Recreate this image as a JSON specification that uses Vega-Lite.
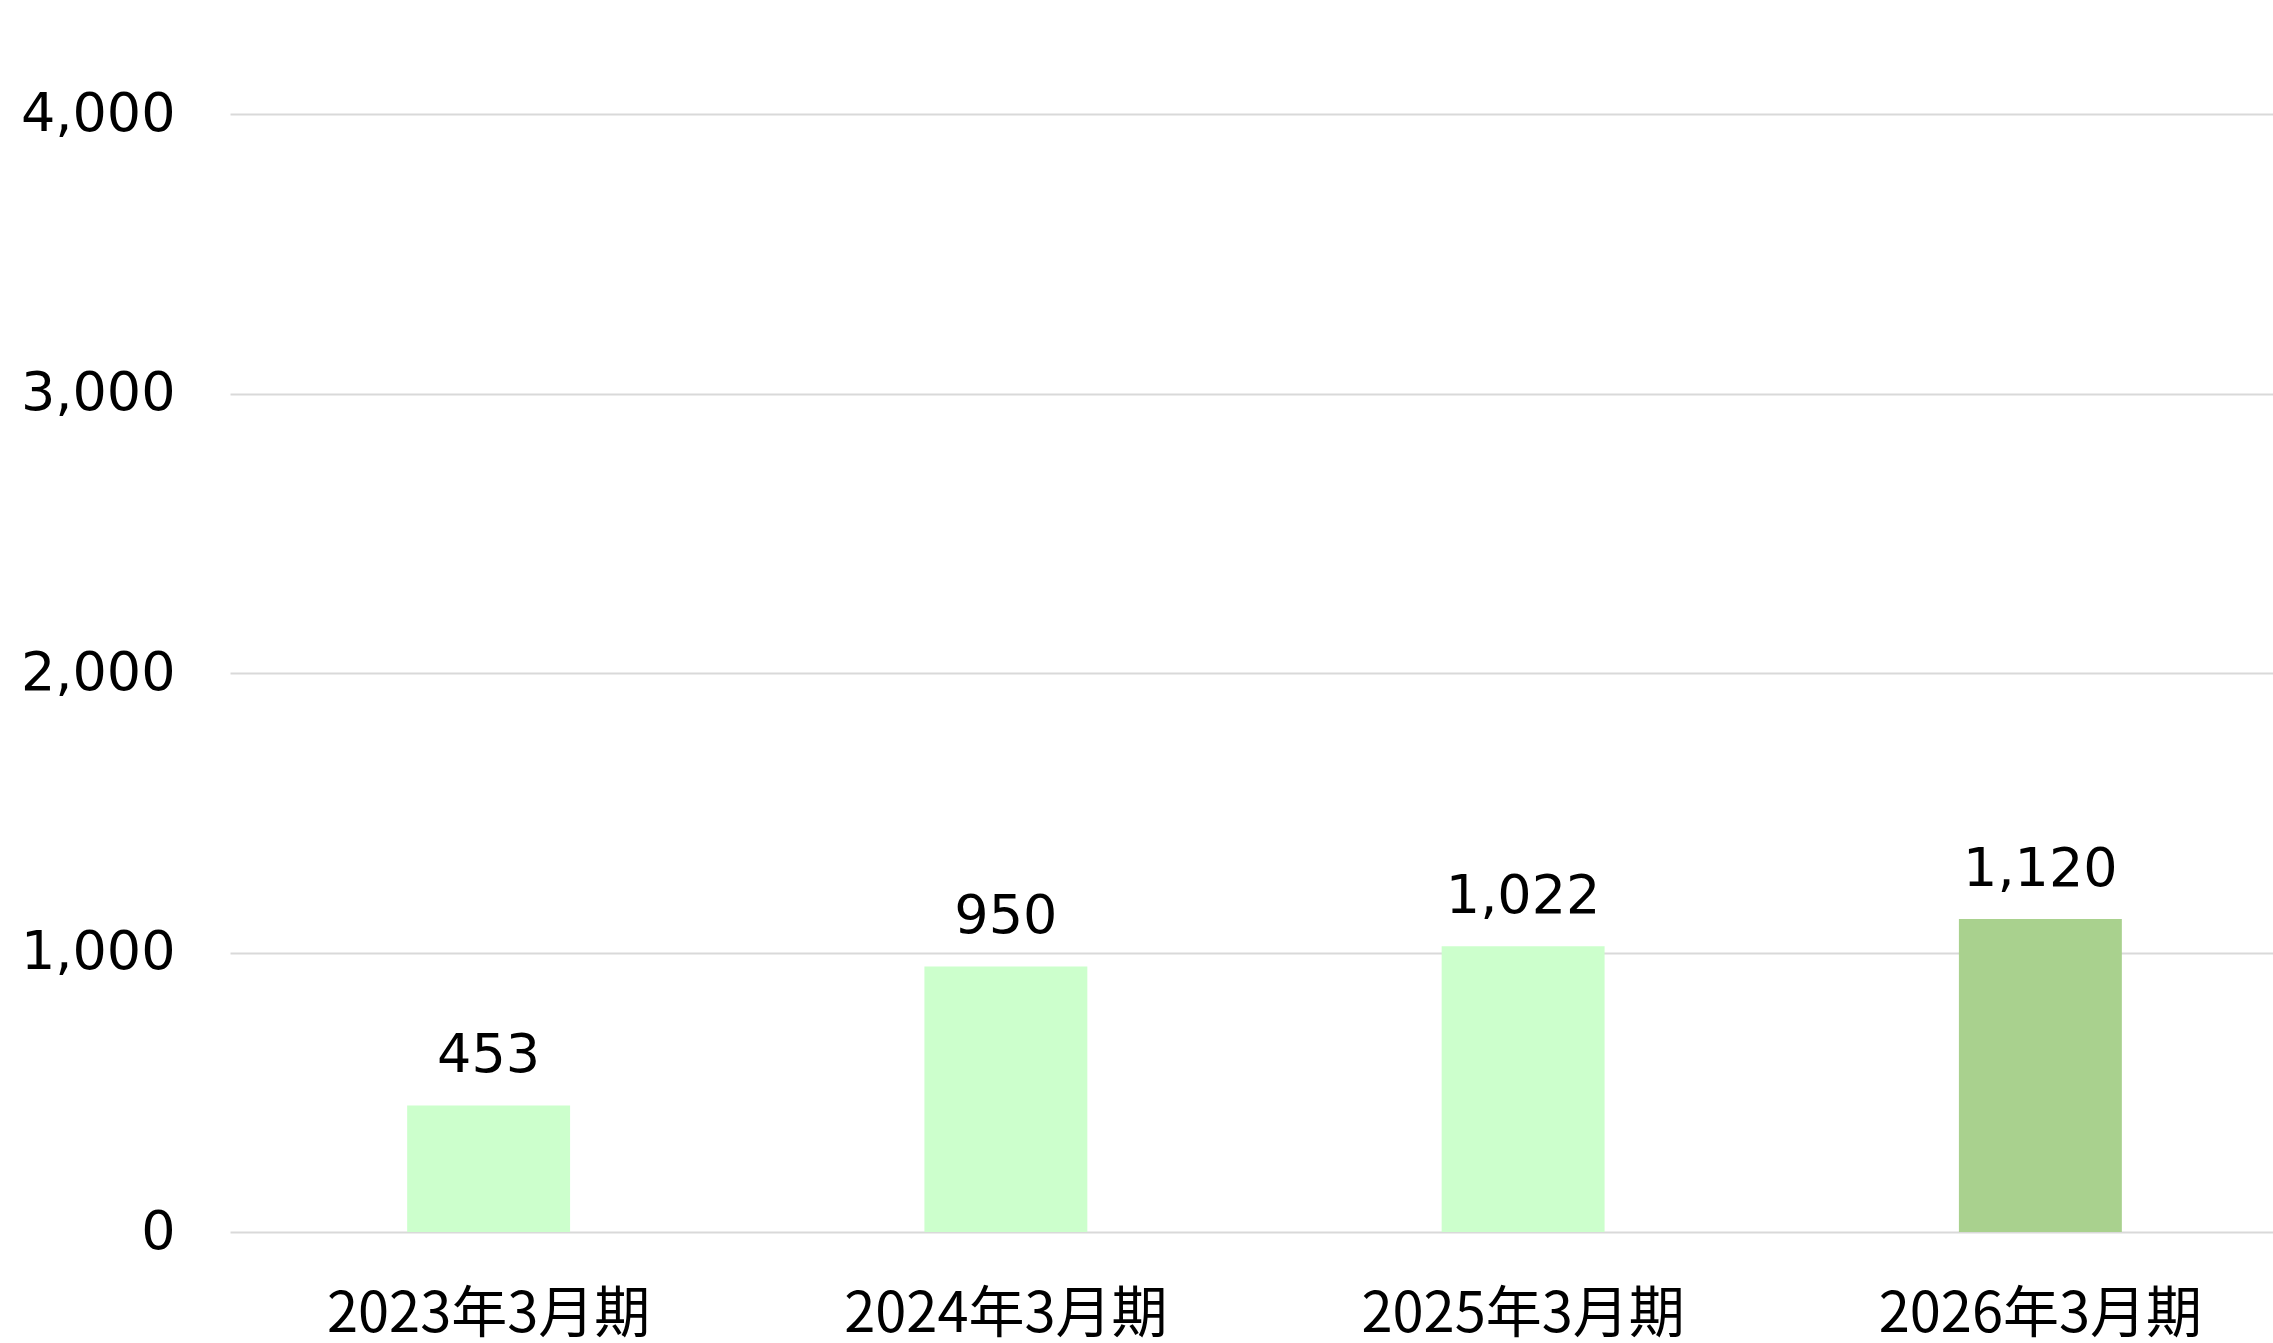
{
  "$schema": "https://vega.github.io/schema/vega-lite/v6.json",
  "autosize": {"type": "none"},
  "width": 2069,
  "height": 1118,
  "padding": {"left": 230, "top": 114, "right": 0, "bottom": 111},
  "background": "white",
  "config": {"view": {"stroke": null}},
  "data": {
    "values": [
      {"period": "2023年3月期", "value": 453, "kind": "実績"},
      {"period": "2024年3月期", "value": 950, "kind": "実績"},
      {"period": "2025年3月期", "value": 1022, "kind": "実績"},
      {"period": "2026年3月期", "value": 1120, "kind": "予想"}
    ]
  },
  "encoding": {
    "x": {
      "field": "period",
      "type": "nominal",
      "sort": null,
      "title": null,
      "scale": {"paddingInner": 0.685, "paddingOuter": 0.3425},
      "axis": {
        "domain": false,
        "ticks": false,
        "labelAngle": 0,
        "labelFont": "Noto Sans CJK JP",
        "labelFontSize": 56,
        "labelColor": "#000000",
        "labelPadding": 55,
        "labelLimit": 0,
        "labelBaseline": "top"
      }
    },
    "y": {
      "field": "value",
      "type": "quantitative",
      "title": null,
      "scale": {"domain": [0, 4000], "nice": false},
      "axis": {
        "values": [0, 1000, 2000, 3000, 4000],
        "format": ",d",
        "domain": false,
        "ticks": false,
        "grid": true,
        "gridColor": "#d9d9d9",
        "gridWidth": 2,
        "labelFont": "DejaVu Sans",
        "labelFontSize": 54,
        "labelColor": "#000000",
        "labelPadding": 55
      }
    }
  },
  "layer": [
    {
      "mark": {"type": "bar"},
      "encoding": {
        "color": {
          "field": "kind",
          "type": "nominal",
          "scale": {"domain": ["実績", "予想"], "range": ["#ccffcc", "#a9d18e"]},
          "legend": null
        }
      }
    },
    {
      "mark": {"type": "text", "font": "DejaVu Sans", "fontSize": 54, "color": "#000000", "baseline": "alphabetic", "dy": -33},
      "encoding": {
        "text": {"field": "value", "type": "quantitative", "format": ",d"}
      }
    }
  ]
}
